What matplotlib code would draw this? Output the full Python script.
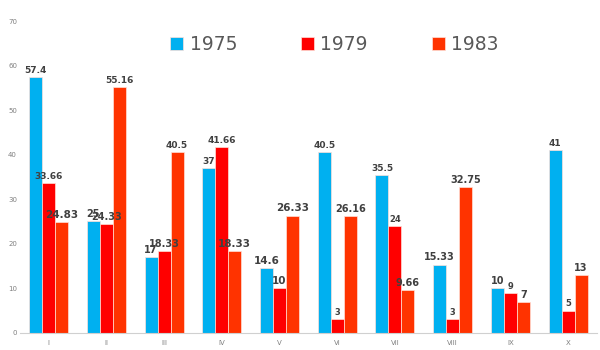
import numpy as np
import matplotlib
matplotlib.use('Agg')
import matplotlib.pyplot as plt

cats = ['I', 'II', 'III', 'IV', 'V', 'VI', 'VII', 'VIII', 'IX', 'X']
years = ['1975', '1979', '1983']
v1975 = [57.4, 25, 17, 37, 14.6, 40.5, 35.5, 15.33, 10, 41]
v1979 = [33.66, 24.33, 18.33, 41.66, 10, 3, 24, 3, 9, 5]
v1983 = [24.83, 55.16, 40.5, 18.33, 26.33, 26.16, 9.66, 32.75, 7, 13]

colors = ['#00B0F0', '#FF0000', '#FF3300']
# label font sizes roughly as they appear in the original
fs1975 = [6.5, 7, 7, 6.5, 7.5, 6.5, 6.5, 7, 7, 6.5]
fs1979 = [6.5, 7, 7, 6.5, 7.5, 6, 6, 6, 6, 6]
fs1983 = [7.5, 6.5, 6.5, 7.5, 7.5, 7, 7, 7, 7, 7]

fig = plt.figure(figsize=(6, 3.5), dpi=100)
ax = fig.add_axes([0.033, 0.049, 0.962, 0.891])

x = np.arange(len(cats))
w = 0.225
series = [v1975, v1979, v1983]
sizes = [fs1975, fs1979, fs1983]
for i, (vals, col, fs, yr) in enumerate(zip(series, colors, sizes, years)):
    xs = x + (i - 1) * w
    ax.bar(xs, vals, width=w, color=col, edgecolor='#ffe0d8', linewidth=0.5, label=yr)
    for xx, v, f in zip(xs, vals, fs):
        ax.annotate(f'{v:g}', (xx, v), xytext=(0, 1.5), textcoords='offset points',
                    ha='center', va='bottom', fontsize=f, fontweight='bold',
                    color='#404040')

ax.set_xlim(-0.5, len(cats) - 0.5)
ax.set_ylim(0, 70)
ax.set_yticks(range(0, 71, 10))
ax.set_xticks(x)
ax.set_xticklabels(cats)
ax.tick_params(axis='both', length=0, labelsize=5, colors='#808080')
ax.tick_params(axis='y', pad=2)
ax.tick_params(axis='x', pad=5)
for s in ['top', 'right', 'left']:
    ax.spines[s].set_visible(False)
ax.spines['bottom'].set_color('#d0d0d0')

leg = ax.legend(loc='center', bbox_to_anchor=(0.545, 0.925), ncol=3,
                frameon=False, fontsize=13.5, handlelength=0.7, handleheight=0.7,
                handletextpad=0.35, columnspacing=3.4)
for t in leg.get_texts():
    t.set_color('#595959')

fig.savefig('out.png')
